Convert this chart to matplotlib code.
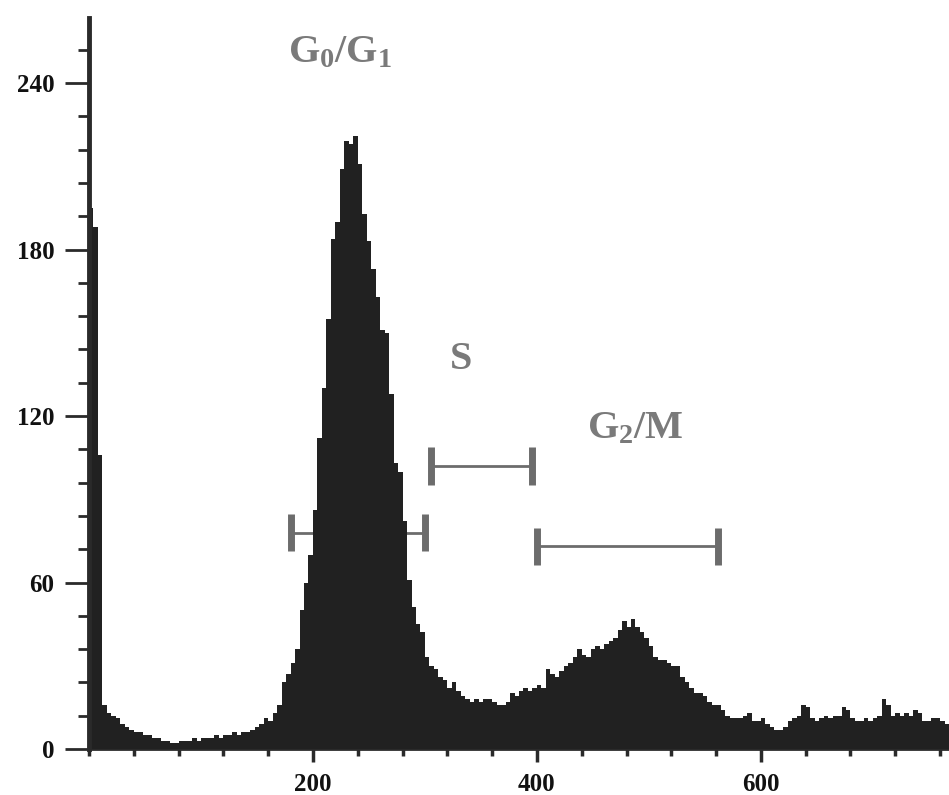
import numpy as np
import matplotlib
matplotlib.use("Agg")
import matplotlib.pyplot as plt
from matplotlib.ticker import MultipleLocator, FixedLocator

plt.rcParams['font.family'] = ['Liberation Serif', 'DejaVu Serif']
plt.rcParams['mathtext.fontset'] = 'custom'
plt.rcParams['mathtext.rm'] = 'Liberation Serif:bold'
plt.rcParams['mathtext.it'] = 'Liberation Serif:bold'
plt.rcParams['mathtext.bf'] = 'Liberation Serif:bold'

# DNA content histogram, bins of 4 channels from 0 to 768
bin_width = 4
counts = [
    195, 188, 106, 16, 13, 12, 11, 9, 8, 7,
    6, 6, 5, 5, 4, 4, 3, 3, 2, 2,
    3, 3, 3, 4, 3, 4, 4, 4, 5, 4,
    5, 5, 6, 5, 6, 6, 7, 8, 9, 11,
    10, 13, 16, 24, 27, 31, 36, 50, 60, 70,
    86, 112, 130, 155, 184, 190, 209, 219, 218, 221,
    211, 193, 183, 173, 163, 151, 150, 128, 103, 100,
    82, 61, 51, 45, 42, 33, 30, 29, 26, 25,
    22, 24, 21, 19, 18, 17, 18, 17, 18, 18,
    17, 16, 16, 17, 20, 19, 21, 22, 21, 22,
    23, 22, 29, 27, 26, 28, 30, 31, 33, 36,
    34, 33, 36, 37, 36, 38, 39, 40, 43, 46,
    44, 47, 44, 42, 40, 37, 33, 32, 32, 31,
    30, 30, 26, 24, 22, 20, 20, 19, 17, 16,
    16, 14, 12, 11, 11, 11, 12, 13, 10, 10,
    11, 9, 8, 7, 7, 8, 10, 11, 12, 16,
    15, 11, 10, 11, 12, 11, 12, 12, 15, 14,
    11, 10, 10, 11, 10, 11, 12, 18, 16, 12,
    13, 12, 13, 12, 14, 13, 10, 10, 11, 11,
    10, 9,
]
edges = np.arange(len(counts) + 1) * bin_width

# gate markers (channel ranges) and their heights
gate_names = [r'G$_0$/G$_1$', 'S', r'G$_2$/M']
gate_left = [180, 305, 400]
gate_right = [300, 396, 562]
gate_y = [78, 102, 73]
label_x = [178, 322, 445]
label_y = [247.5, 137, 112]

fig = plt.figure(figsize=(9.49, 7.95), dpi=100)
ax = fig.add_axes([0.0938, 0.0579, 0.9062, 0.9195])

# histogram in front of the gate bars
ax.stairs(counts, edges, fill=True, color='#212121', linewidth=0, zorder=3)

gray = '#6c6c6c'
ax.hlines(gate_y, gate_left, gate_right, color=gray, lw=2, zorder=2)
ax.vlines(gate_left + gate_right, [y - 6.8 for y in gate_y * 2],
          [y + 6.8 for y in gate_y * 2], color=gray, lw=5, zorder=2)

for name, x, y in zip(gate_names, label_x, label_y):
    ax.text(x, y, name, fontsize=29, fontweight='bold', color='#7a7a7a',
            ha='left', va='baseline')

ax.set_xlim(0, 768)
ax.set_ylim(0, 263.5)

for s in ['top', 'right']:
    ax.spines[s].set_visible(False)
ax.spines['left'].set_linewidth(3.5)
ax.spines['left'].set_color('#2a2a2a')
ax.spines['left'].set_zorder(4)
ax.spines['bottom'].set_linewidth(2)
ax.spines['bottom'].set_color('#2a2a2a')

ax.yaxis.set_major_locator(MultipleLocator(60))
ax.yaxis.set_minor_locator(MultipleLocator(12))
ax.xaxis.set_major_locator(FixedLocator([200, 400, 600]))
ax.xaxis.set_minor_locator(MultipleLocator(40))

ax.tick_params(axis='y', which='major', length=17, width=2, color='#2a2a2a', pad=8)
ax.tick_params(axis='y', which='minor', length=8, width=2, color='#2a2a2a')
ax.tick_params(axis='x', which='major', length=9, width=2.5, color='#2a2a2a', pad=8)
ax.tick_params(axis='x', which='minor', length=5, width=2.5, color='#2a2a2a')

for lab in ax.get_xticklabels() + ax.get_yticklabels():
    lab.set_fontsize(18)
    lab.set_fontweight('bold')
    lab.set_color('#111111')

fig.savefig('out.png', dpi=100, facecolor='white')
